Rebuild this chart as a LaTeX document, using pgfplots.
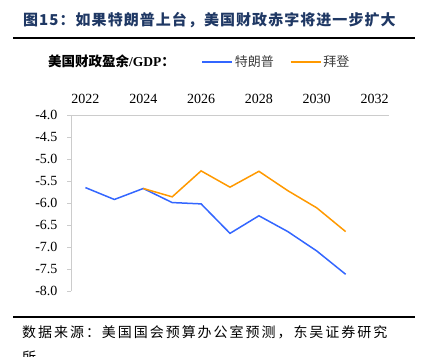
\documentclass[border=0pt]{standalone}
\usepackage{fontspec}
\usepackage{pgfplots}
\pgfplotsset{compat=1.18}
\setmainfont{Liberation Serif}
\newfontfamily\cjk{Noto Sans CJK SC}
\newfontfamily\cjkt[LetterSpace=7]{Noto Sans CJK SC}
\newfontfamily\cjksp[LetterSpace=14]{Noto Sans CJK SC}
\definecolor{tblue}{RGB}{51,102,255}
\definecolor{torange}{RGB}{255,153,0}
\definecolor{titlec}{RGB}{31,56,100}
\definecolor{txtc}{RGB}{64,64,64}
\begin{document}
\begin{tikzpicture}[x=1pt,y=1pt]
\path[use as bounding box] (0,0) rectangle (422,356);
\node[anchor=base west,inner sep=0,text=titlec,font={\cjkt\bfseries\fontsize{15}{18}\selectfont}] at (23,330) {图15：如果特朗普上台，美国财政赤字将进一步扩大};
\draw[line width=2pt] (13,318) -- (415,318);
\node[anchor=base west,inner sep=0,font={\cjk\bfseries\fontsize{13.5}{16}\selectfont}] at (48,289) {美国财政盈余{\rmfamily\bfseries /GDP}：};
\begin{axis}[
  at={(71pt,65pt)}, anchor=south west,
  scale only axis, width=318pt, height=176pt,
  xmin=-0.5, xmax=10.5, ymin=-8, ymax=-4,
  axis x line*=top, axis y line*=left,
  axis line style={gray!40, line width=0.8pt},
  xtick={0,2,4,6,8,10},
  xticklabels={2022,2024,2026,2028,2030,2032},
  extra x ticks={-0.5,0.5,...,10.5},
  extra x tick labels={},
  extra x tick style={major tick length=4pt, tick style={gray!40, line width=0.8pt}},
  x tick label style={yshift=4pt},
  ytick={-8,-7.5,...,-4},
  yticklabel style={xshift=-6pt, /pgf/number format/.cd, fixed, fixed zerofill, precision=1},
  /pgf/number format/assume math mode=true,
  tick label style={font=\fontsize{14}{16}\selectfont, text=black},
  tick align=outside,
  xtick style={draw=none},
  ytick style={gray!40, line width=0.8pt},
  major tick length=4pt,
  legend columns=2,
  legend style={at={(0.40,1.30)}, anchor=west, draw=none, fill=none,
    font={\cjk\fontsize{13}{16}\selectfont}, text=txtc,
    /tikz/every even column/.append style={column sep=14pt}},
  legend image code/.code={\draw[#1] (0pt,0pt) -- (30pt,0pt);},
  clip=false,
]
\addplot[tblue, line width=1.5pt] coordinates {
(0,-5.65) (1,-5.92) (2,-5.67) (3,-5.99) (4,-6.02) (5,-6.69) (6,-6.29) (7,-6.65) (8,-7.09) (9,-7.62)};
\addlegendentry{特朗普}
\addplot[torange, line width=1.5pt] coordinates {
(2,-5.67) (3,-5.86) (4,-5.27) (5,-5.64) (6,-5.28) (7,-5.72) (8,-6.11) (9,-6.65)};
\addlegendentry{拜登}
\end{axis}
\draw[line width=1.4pt] (13,39) -- (415,39);
\node[anchor=base west,inner sep=0,font={\cjksp\fontsize{14}{17}\selectfont}] at (22,19) {数据来源：美国国会预算办公室预测，东吴证券研究};
\node[anchor=base west,inner sep=0,font={\cjksp\fontsize{14}{17}\selectfont}] at (22,-6) {所};
\end{tikzpicture}
\end{document}
